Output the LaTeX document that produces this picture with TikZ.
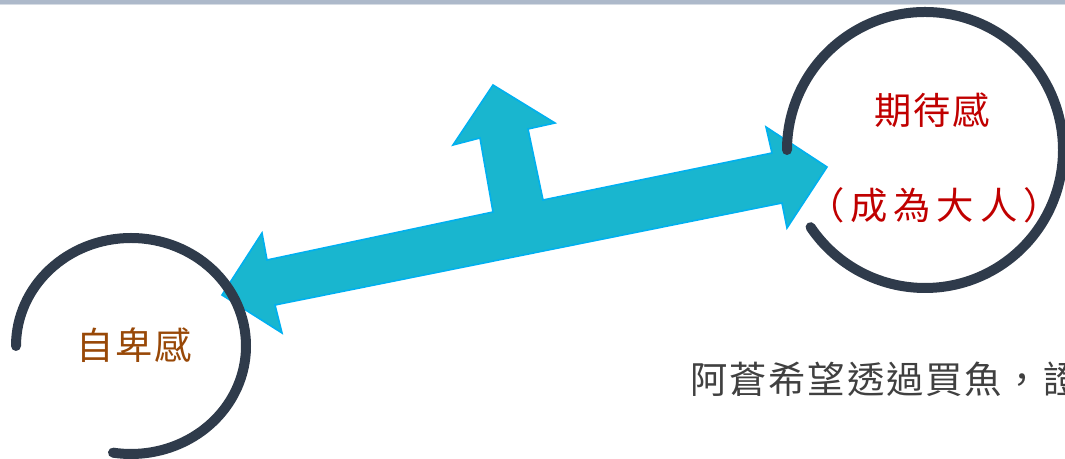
\documentclass[tikz,border=0pt]{standalone}
\usepackage{fontspec}
\usepackage{tikz}
\newfontfamily\cjk[LetterSpace=5]{Noto Sans CJK TC}
\newfontfamily\cjkwide[LetterSpace=16]{Noto Sans CJK TC}
\definecolor{ringgray}{HTML}{2F3B4B}
\definecolor{arrowfill}{HTML}{19B6CF}
\definecolor{arrowline}{HTML}{00B0F0}
\definecolor{bargray}{HTML}{ADB9CA}
\definecolor{textred}{HTML}{C00000}
\definecolor{textbrown}{HTML}{984807}
\definecolor{textgray}{HTML}{404040}

\begin{document}
\begin{tikzpicture}[x=0.75pt,y=0.75pt,
  ring/.style={draw=ringgray,line width=7.5pt,line cap=round},
  word/.style={font=\cjk\fontsize{28}{32}\selectfont,inner sep=0pt}]
\useasboundingbox (0,0) rectangle (1065,459);
\clip (0,0) rectangle (1065,459);

% top bar
\fill[bargray] (0,455) rectangle (1065,459);
\fill[bargray!50] (0,454) rectangle (1065,455);

% arrow with branch
\draw[fill=arrowfill,draw=arrowline,line width=1.2pt,line join=miter]
  (222,164) -- (262,226) -- (267,199) -- (493,247) -- (480,321) -- (453,314)
  -- (493,374) -- (555,336) -- (528,330) -- (543,259) -- (772,306) -- (766,332)
  -- (827,292) -- (787,231) -- (782,256) -- (275,154) -- (282,126) -- cycle;

% rings
\draw[ring] (16,113) arc[start angle=180,end angle=-99,x radius=115,y radius=108];
\draw[ring] (787,309) arc[start angle=180,end angle=-146,radius=138];

% texts
\node[word,text=textred] (expect) at (932,349) {期待感};
\node[word,font=\cjkwide\fontsize{28}{32}\selectfont,text=textred] (grow) at (934,254) {（成為大人）};
\node[word,text=textbrown] (inferior) at (134,114) {自卑感};
\node[word,text=textgray,anchor=west] (buyfish) at (690,80) {阿蒼希望透過買魚，證};
\end{tikzpicture}
\end{document}
